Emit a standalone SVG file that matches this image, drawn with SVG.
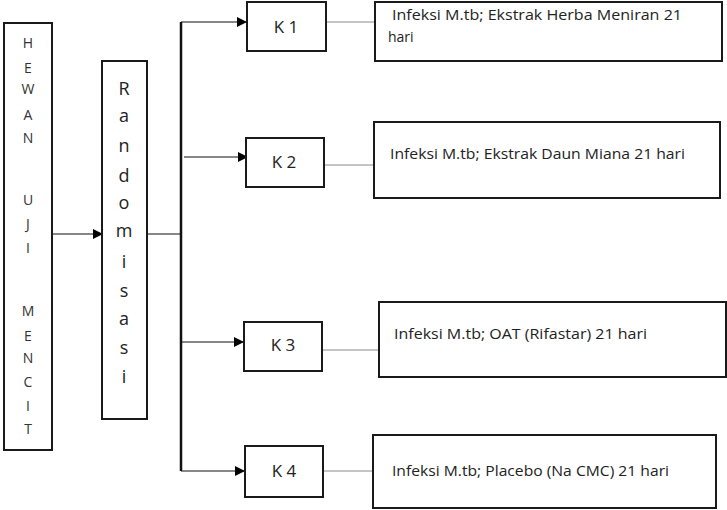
<svg xmlns="http://www.w3.org/2000/svg" width="727" height="510" viewBox="0 0 727 510">
<style>
.box{fill:#fff;stroke:#1a1a1a;stroke-width:2}
.ln{stroke:#111;stroke-width:1.2;fill:none}
.thin{stroke:#8a8a8a;stroke-width:1;fill:none}
.vt{font-family:"Open Sans","Liberation Sans",sans-serif;font-size:14px;fill:#333;text-anchor:middle}
.rt{font-family:"Open Sans","Liberation Sans",sans-serif;font-size:18px;fill:#222;text-anchor:middle}
.kt{font-family:"Open Sans","Liberation Sans",sans-serif;font-size:17px;fill:#222;text-anchor:middle}
.it{font-family:"Open Sans","Liberation Sans",sans-serif;font-size:14px;fill:#222}
</style>
<defs>
<marker id="ah" markerWidth="10" markerHeight="10" refX="9" refY="5" orient="auto" markerUnits="userSpaceOnUse">
<path d="M0,0 L10,5 L0,10 Z" fill="#000"/>
</marker>
</defs>
<g id="connectors">
<line class="ln" x1="52" y1="234" x2="102" y2="234" marker-end="url(#ah)"/>
<line class="ln" x1="147" y1="234" x2="181" y2="234"/>
<line stroke="#111" stroke-width="2.5" x1="181" y1="22" x2="181" y2="471"/>
<line class="ln" x1="181" y1="22" x2="246" y2="22" marker-end="url(#ah)"/>
<line class="ln" x1="184" y1="157" x2="247" y2="157" marker-end="url(#ah)"/>
<line class="ln" x1="181" y1="342" x2="243" y2="342" marker-end="url(#ah)"/>
<line class="ln" x1="181" y1="471" x2="244" y2="471" marker-end="url(#ah)"/>
<line class="thin" x1="326" y1="22" x2="375" y2="22"/>
<line class="thin" x1="324" y1="165" x2="374" y2="165"/>
<line class="thin" x1="322" y1="350" x2="379" y2="350"/>
<line class="thin" x1="323" y1="471" x2="373" y2="471"/>
</g>
<g id="hewan">
<rect class="box" x="4" y="23" width="48" height="427"/>
<text class="vt" x="28" y="48">H</text>
<text class="vt" x="28" y="73">E</text>
<text class="vt" x="28" y="94">W</text>
<text class="vt" x="28" y="120">A</text>
<text class="vt" x="28" y="143">N</text>
<text class="vt" x="28" y="205">U</text>
<text class="vt" x="28" y="229">J</text>
<text class="vt" x="28" y="253">I</text>
<text class="vt" x="28" y="316">M</text>
<text class="vt" x="28" y="341">E</text>
<text class="vt" x="28" y="363">N</text>
<text class="vt" x="28" y="387">C</text>
<text class="vt" x="28" y="411">I</text>
<text class="vt" x="28" y="434">T</text>
</g>
<g id="randomisasi">
<rect class="box" x="102" y="61" width="45" height="358"/>
<text class="rt" x="124" y="95">R</text>
<text class="rt" x="124" y="122">a</text>
<text class="rt" x="124" y="152">n</text>
<text class="rt" x="124" y="182">d</text>
<text class="rt" x="124" y="209">o</text>
<text class="rt" x="124" y="237">m</text>
<text class="rt" x="124" y="268">i</text>
<text class="rt" x="124" y="297">s</text>
<text class="rt" x="124" y="325">a</text>
<text class="rt" x="124" y="354">s</text>
<text class="rt" x="124" y="383">i</text>
</g>
<g id="k1">
<rect class="box" x="247" y="2" width="79" height="49"/>
<text class="kt" x="286" y="33">K 1</text>
</g>
<g id="k2">
<rect class="box" x="246" y="138" width="78" height="49"/>
<text class="kt" x="284" y="168">K 2</text>
</g>
<g id="k3">
<rect class="box" x="244" y="322" width="78" height="49"/>
<text class="kt" x="283" y="351">K 3</text>
</g>
<g id="k4">
<rect class="box" x="245" y="446" width="78" height="51"/>
<text class="kt" x="284" y="477">K 4</text>
</g>
<g id="info1">
<rect class="box" x="375" y="2" width="347" height="59"/>
<text class="it" x="392" y="20" textLength="290" lengthAdjust="spacingAndGlyphs">Infeksi M.tb;  Ekstrak Herba Meniran 21</text>
<text class="it" x="388" y="42">hari</text>
</g>
<g id="info2">
<rect class="box" x="374" y="122" width="346" height="76"/>
<text class="it" x="390" y="159" textLength="295" lengthAdjust="spacingAndGlyphs">Infeksi M.tb; Ekstrak Daun Miana 21 hari</text>
</g>
<g id="info3">
<rect class="box" x="379" y="302" width="347" height="75"/>
<text class="it" x="394" y="339" textLength="253" lengthAdjust="spacingAndGlyphs">Infeksi M.tb; OAT (Rifastar) 21 hari</text>
</g>
<g id="info4">
<rect class="box" x="373" y="435" width="343" height="73"/>
<text class="it" x="392" y="476" textLength="277" lengthAdjust="spacingAndGlyphs">Infeksi M.tb; Placebo (Na CMC) 21 hari</text>
</g>
</svg>
